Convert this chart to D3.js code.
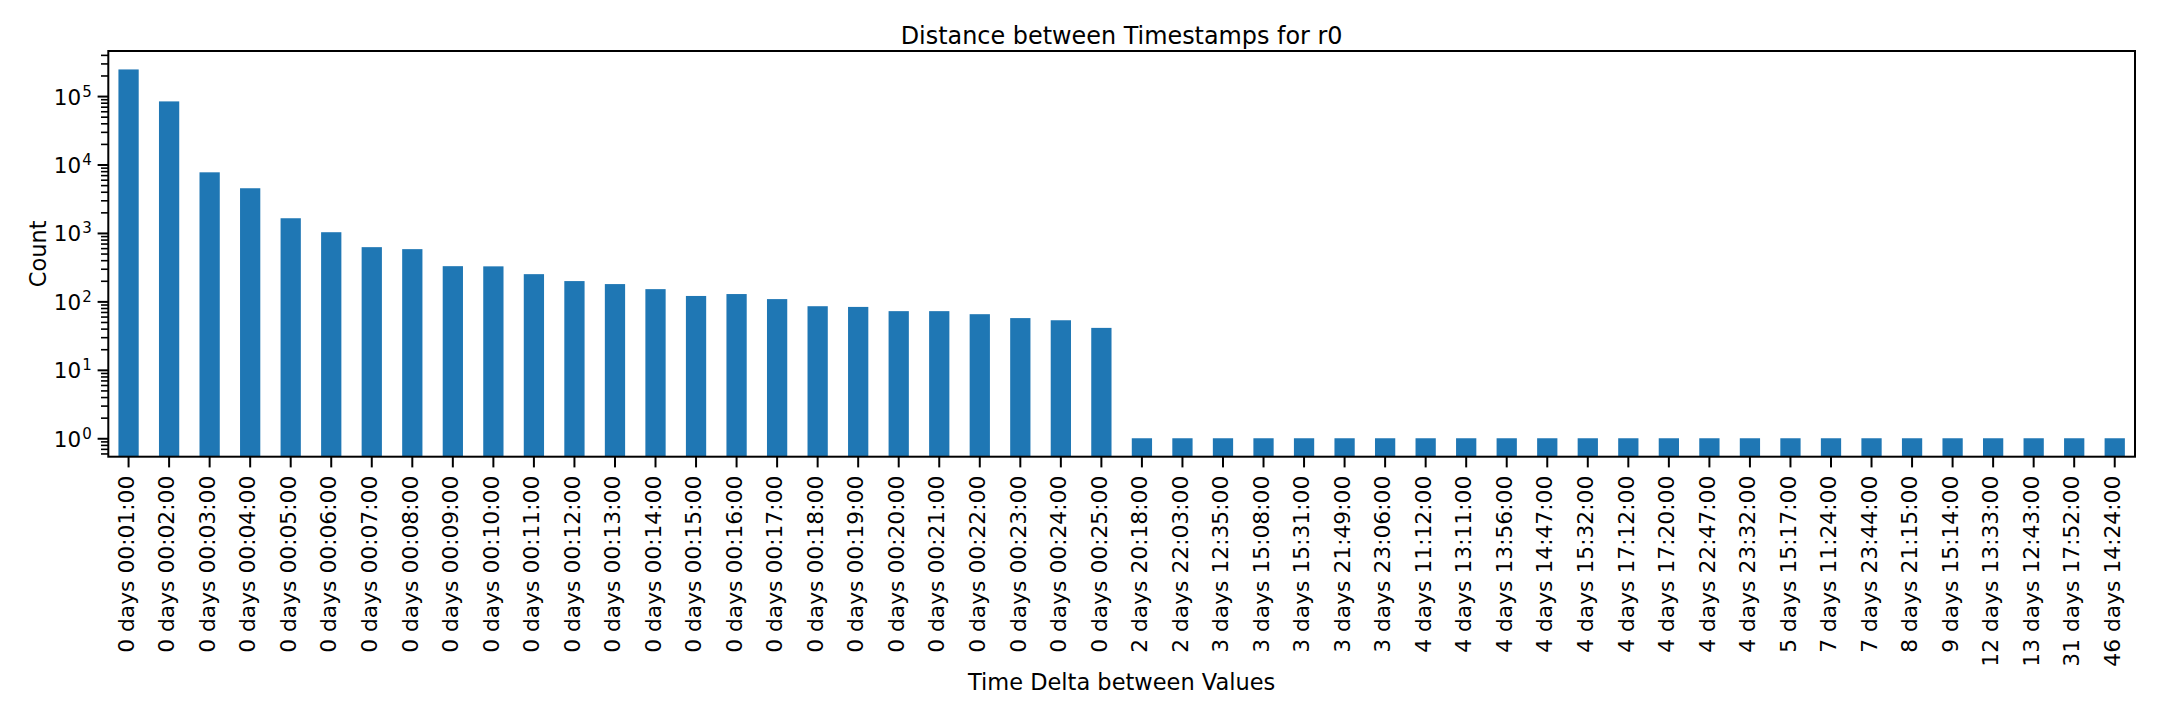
<!DOCTYPE html>
<html>
<head>
<meta charset="utf-8">
<script src="https://cdn.jsdelivr.net/npm/d3@7"></script>
<style>
  body { margin: 0; background: #fff; }
  text { font-family: "DejaVu Sans", sans-serif; fill: #000; }
</style>
</head>
<body>
<div id="chart"></div>
<script>
var svgWidth = 2160;
var svgHeight = 720;

var margin = { top: 51, right: 25, bottom: 263.3, left: 108.3 };

var width = svgWidth - margin.left - margin.right;
var height = svgHeight - margin.top - margin.bottom;

// time deltas (x categories)
var deltas = [
  "0 days 00:01:00", "0 days 00:02:00", "0 days 00:03:00", "0 days 00:04:00", "0 days 00:05:00",
  "0 days 00:06:00", "0 days 00:07:00", "0 days 00:08:00", "0 days 00:09:00", "0 days 00:10:00",
  "0 days 00:11:00", "0 days 00:12:00", "0 days 00:13:00", "0 days 00:14:00", "0 days 00:15:00",
  "0 days 00:16:00", "0 days 00:17:00", "0 days 00:18:00", "0 days 00:19:00", "0 days 00:20:00",
  "0 days 00:21:00", "0 days 00:22:00", "0 days 00:23:00", "0 days 00:24:00", "0 days 00:25:00",
  "2 days 20:18:00", "2 days 22:03:00", "3 days 12:35:00", "3 days 15:08:00", "3 days 15:31:00",
  "3 days 21:49:00", "3 days 23:06:00", "4 days 11:12:00", "4 days 13:11:00", "4 days 13:56:00",
  "4 days 14:47:00", "4 days 15:32:00", "4 days 17:12:00", "4 days 17:20:00", "4 days 22:47:00",
  "4 days 23:32:00", "5 days 15:17:00", "7 days 11:24:00", "7 days 23:44:00", "8 days 21:15:00",
  "9 days 15:14:00", "12 days 13:33:00", "13 days 12:43:00", "31 days 17:52:00", "46 days 14:24:00"
];

// counts per delta
var counts = [
  245000, 83600, 7690, 4500, 1640, 1025, 620, 580, 327, 325,
  250, 198, 179, 151, 120, 128, 108, 85, 83, 72,
  72, 65, 57, 53, 41,
  1, 1, 1, 1, 1, 1, 1, 1, 1, 1,
  1, 1, 1, 1, 1, 1, 1, 1, 1, 1,
  1, 1, 1, 1, 1
];

// y major ticks (exponents of 10)
var yExponents = [0, 1, 2, 3, 4, 5];

var titleText = "Distance between Timestamps for r0";
var xLabelText = "Time Delta between Values";
var yLabelText = "Count";

var data = deltas.map(function(d, i) { return { delta: d, count: counts[i] }; });

var svg = d3.select("#chart")
  .append("svg")
  .attr("width", svgWidth)
  .attr("height", svgHeight);

svg.append("rect")
  .attr("width", svgWidth)
  .attr("height", svgHeight)
  .attr("fill", "#fff");

var chartGroup = svg.append("g")
  .attr("transform", `translate(${margin.left}, ${margin.top})`);

// scales (5% margin in log space like matplotlib)
var logMin = Math.log10(d3.min(counts));
var logMax = Math.log10(d3.max(counts));
var pad = 0.05 * (logMax - logMin);

var xBandScale = d3.scaleBand()
  .domain(deltas)
  .range([0, width])
  .paddingInner(0.5)
  .paddingOuter(0.25);

var yLogScale = d3.scaleLog()
  .domain([Math.pow(10, logMin - pad), Math.pow(10, logMax + pad)])
  .range([height, 0]);

// minor ticks 2..9 for each decade inside the domain
var yDomain = yLogScale.domain();
var minorTicks = [];
for (var e = Math.floor(Math.log10(yDomain[0])); e <= Math.ceil(Math.log10(yDomain[1])); e++) {
  for (var m = 2; m <= 9; m++) {
    var v = m * Math.pow(10, e);
    if (v >= yDomain[0] && v <= yDomain[1]) minorTicks.push(v);
  }
}
var majorTicks = yExponents.map(function(p) { return Math.pow(10, p); });

// bars
chartGroup.selectAll(".bar")
  .data(data)
  .enter()
  .append("rect")
  .attr("class", "bar")
  .attr("x", d => xBandScale(d.delta))
  .attr("width", xBandScale.bandwidth())
  .attr("y", d => yLogScale(d.count))
  .attr("height", d => height - yLogScale(d.count))
  .attr("fill", "#1f77b4");

// x axis
var bottomAxis = d3.axisBottom(xBandScale).tickSize(10.7).tickSizeOuter(0);
var xAxisG = chartGroup.append("g")
  .attr("transform", `translate(0, ${height})`)
  .call(bottomAxis);
xAxisG.select(".domain").remove();
xAxisG.selectAll(".tick line").attr("stroke", "#000").attr("stroke-width", 2);
xAxisG.selectAll(".tick text")
  .attr("transform", "rotate(-90)")
  .attr("text-anchor", "end")
  .attr("x", -19)
  .attr("y", 0)
  .attr("dy", "5.2")
  .style("font-size", "21.8px")
  .style("font-family", "DejaVu Sans")
  .attr("fill", "#000");

// y axis minor
var minorAxis = d3.axisLeft(yLogScale).tickValues(minorTicks).tickSize(7.3).tickFormat("");
var yMinorG = chartGroup.append("g").call(minorAxis);
yMinorG.select(".domain").remove();
yMinorG.selectAll(".tick line").attr("stroke", "#000").attr("stroke-width", 1.6);

// y axis major
var leftAxis = d3.axisLeft(yLogScale).tickValues(majorTicks).tickSize(10.7).tickFormat("");
var yAxisG = chartGroup.append("g").call(leftAxis);
yAxisG.select(".domain").remove();
yAxisG.selectAll(".tick line").attr("stroke", "#000").attr("stroke-width", 2);

var yTickText = yAxisG.selectAll(".tick")
  .append("text")
  .attr("x", -16.6)
  .attr("y", 8)
  .attr("text-anchor", "end")
  .style("font-family", "DejaVu Sans")
  .attr("fill", "#000");
yTickText.append("tspan")
  .style("font-size", "21.5px")
  .text("10");
yTickText.append("tspan")
  .attr("dy", -8)
  .attr("dx", 1)
  .style("font-size", "15px")
  .text((d, i) => yExponents[i]);

// frame (spines)
chartGroup.append("rect")
  .attr("x", 0)
  .attr("y", 0)
  .attr("width", width)
  .attr("height", height)
  .attr("fill", "none")
  .attr("stroke", "#000")
  .attr("stroke-width", 2);

// title
chartGroup.append("text")
  .attr("x", width / 2)
  .attr("y", -7)
  .attr("text-anchor", "middle")
  .style("font-size", "23.9px")
  .text(titleText);

// axis labels
chartGroup.append("text")
  .attr("x", width / 2)
  .attr("y", 690 - margin.top)
  .attr("text-anchor", "middle")
  .style("font-size", "22.5px")
  .text(xLabelText);

chartGroup.append("text")
  .attr("transform", "rotate(-90)")
  .attr("x", -height / 2)
  .attr("y", 46 - margin.left)
  .attr("text-anchor", "middle")
  .style("font-size", "22.5px")
  .text(yLabelText);
</script>
</body>
</html>
